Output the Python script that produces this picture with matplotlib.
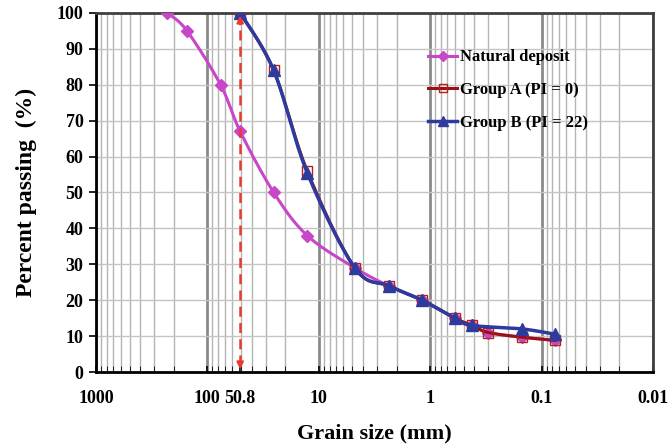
import numpy as np
import matplotlib
matplotlib.use('Agg')
import matplotlib.pyplot as plt
from matplotlib.ticker import LogLocator, NullFormatter, FixedLocator

plt.rcParams['font.family'] = 'Liberation Serif'
plt.rcParams['font.weight'] = 'bold'

# sieve sizes (mm) and percent passing
nat_size = [228.6, 152.4, 76.2, 50.8, 25.4, 12.7, 4.75, 2.36, 1.18, 0.6, 0.425, 0.3, 0.15, 0.075]
nat_pass = [100, 95, 80, 67, 50, 38, 29, 24, 20, 15, 13, 11, 9.7, 8.8]

a_size = [50.8, 25.4, 12.7, 4.75, 2.36, 1.18, 0.6, 0.425, 0.3, 0.15, 0.075]
a_pass = [100, 84, 56, 29, 24, 20, 15, 13, 11, 9.7, 8.8]

b_size = [50.8, 25.4, 12.7, 4.75, 2.36, 1.18, 0.6, 0.425, 0.15, 0.075]
b_pass = [100, 84, 55.5, 29, 24, 20, 15, 13, 12, 10.5]

xtick_vals = [1000, 100, 50.8, 10, 1, 0.1, 0.01]
xtick_labels = ['1000', '100', '50.8', '10', '1', '0.1', '0.01']
cut_size = 50.8


def smooth(xs, ys, n=30):
    # excel-like smoothed line (catmull-rom in log-x space)
    lx = np.log10(xs)
    ys = np.asarray(ys, float)
    P = np.column_stack([lx, ys])
    P = np.vstack([P[0], P, P[-1]])
    out = []
    t = np.linspace(0, 1, n)[:, None]
    for i in range(1, len(P) - 2):
        p0, p1, p2, p3 = P[i - 1], P[i], P[i + 1], P[i + 2]
        c1 = p1 + (p2 - p0) / 6
        c2 = p2 - (p3 - p1) / 6
        seg = ((1 - t) ** 3) * p1 + 3 * ((1 - t) ** 2) * t * c1 + 3 * (1 - t) * t ** 2 * c2 + t ** 3 * p2
        out.append(seg)
    out = np.vstack(out)
    return 10 ** out[:, 0], out[:, 1]


fig = plt.figure(figsize=(6.69, 4.45), dpi=100)
ax = fig.add_axes([0.1435, 0.164, 0.8325, 0.807])

c_nat = '#C847C8'
c_a = '#9B1010'
c_b = '#2E3B9E'

sx, sy = smooth(nat_size, nat_pass)
ax.plot(sx, sy, color=c_nat, lw=2.2, zorder=3)
ax.plot(nat_size, nat_pass, ls='none', marker='D', ms=6, color=c_nat, zorder=3)

sx, sy = smooth(a_size, a_pass)
ax.plot(sx, sy, color=c_a, lw=2.2, zorder=4)
ax.plot(a_size, a_pass, ls='none', marker='s', ms=7, mfc='none', mec='#B02020', mew=1.0, zorder=4)

sx, sy = smooth(b_size, b_pass)
ax.plot(sx, sy, color=c_b, lw=2.5, zorder=5)
ax.plot(b_size, b_pass, ls='none', marker='^', ms=8, color=c_b, zorder=5)

# legend proxies
h1, = ax.plot([], [], color=c_nat, lw=2.2, marker='D', ms=5)
h2, = ax.plot([], [], color=c_a, lw=2.2, marker='s', ms=6, mfc='none', mec='#B02020')
h3, = ax.plot([], [], color=c_b, lw=2.5, marker='^', ms=7)
ax.legend([h1, h2, h3], ['Natural deposit', 'Group A (PI = 0)', 'Group B (PI = 22)'],
          loc='upper left', bbox_to_anchor=(0.57, 0.94), frameon=False,
          fontsize=12, labelspacing=1.0, handlelength=1.7, handletextpad=0.2)

# red dashed cut-off line with arrow heads
red = '#E83A2E'
ax.plot([cut_size, cut_size], [2, 98], color=red, lw=1.8, ls=(0, (4, 2.5)), zorder=6)
ax.annotate('', xy=(cut_size, 100), xytext=(cut_size, 96),
            arrowprops=dict(arrowstyle='-|>', color=red, lw=1.5, mutation_scale=10), zorder=6)
ax.annotate('', xy=(cut_size, 0), xytext=(cut_size, 4),
            arrowprops=dict(arrowstyle='-|>', color=red, lw=1.5, mutation_scale=10), zorder=6)

ax.set_xscale('log')
ax.set_xlim(1000, 0.01)
ax.set_ylim(0, 100)
ax.set_yticks(range(0, 101, 10))

ax.xaxis.set_major_locator(FixedLocator(xtick_vals))
ax.set_xticklabels(xtick_labels)
ax.xaxis.set_minor_locator(LogLocator(base=10, subs=np.arange(2, 10)))
ax.xaxis.set_minor_formatter(NullFormatter())

ax.grid(True, which='major', axis='x', color='#8a8a8a', lw=2.0)
ax.grid(True, which='minor', axis='x', color='#b4b4b4', lw=1.0)
ax.grid(True, which='major', axis='y', color='#c4c4c4', lw=1.0)
for val, gl in zip(xtick_vals, ax.get_xgridlines()):
    if val == cut_size:
        gl.set_visible(False)
ax.set_axisbelow(True)

ax.tick_params(axis='both', labelsize=13, width=1.2)
ax.tick_params(axis='x', which='both', direction='in', length=4, pad=13)
ax.tick_params(axis='y', direction='out', length=5, pad=4)

for s in ['left', 'bottom']:
    ax.spines[s].set_linewidth(2.0)
    ax.spines[s].set_color('black')
for s in ['top', 'right']:
    ax.spines[s].set_linewidth(2.0)
    ax.spines[s].set_color('#404040')

ax.set_xlabel('Grain size (mm)', fontsize=16, fontweight='bold', labelpad=12)
ax.set_ylabel('Percent passing  (%)', fontsize=17, fontweight='bold', labelpad=14)

fig.savefig('out.png', dpi=100)
